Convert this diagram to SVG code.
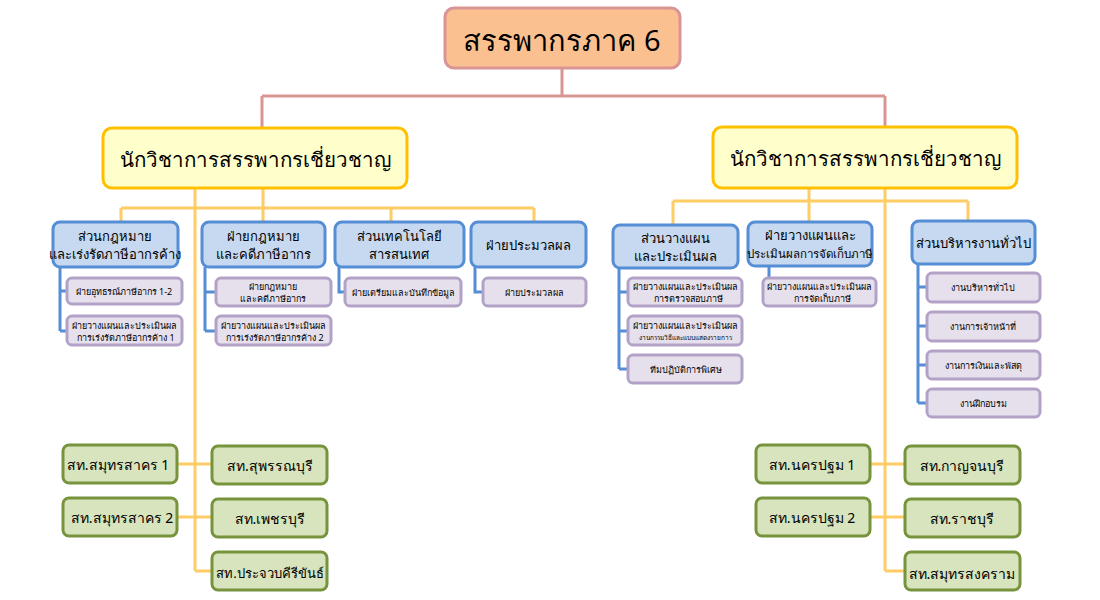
<svg xmlns="http://www.w3.org/2000/svg" width="1100" height="600" viewBox="0 0 1100 600">
<style>
text{font-family:"Noto Sans","DejaVu Sans",sans-serif;fill:#000;text-anchor:middle;dominant-baseline:central}
.top{fill:#FAC090;stroke:#D99594;stroke-width:3}
.yel{fill:#FFFFCC;stroke:#FFC000;stroke-width:3}
.blu{fill:#C6D9F1;stroke:#558ED5;stroke-width:3}
.pur{fill:#E6E0EC;stroke:#B3A2C7;stroke-width:3}
.grn{fill:#D7E4BD;stroke:#77933C;stroke-width:3}
.cp{fill:none;stroke:#D99594;stroke-width:3}
.co{fill:none;stroke:#FFCC66;stroke-width:3}
.cb{fill:none;stroke:#558ED5;stroke-width:3}
.t1{font-size:29px}
.t2{font-size:20.5px}
.t3{font-size:13px}
.t4{font-size:9px}
.t5{font-size:14px}
</style>
<rect width="1100" height="600" fill="#fff"/>
<g id="connectors">
<path class="cp" d="M562 68V96M262 96H885M262 96V128M885 96V127"/>
<path class="co" d="M195 188V571M263 188V208M121 208H534M121 208V222M263 208V222M391 208V222M534 208V222"/>
<path class="co" d="M177 464H212M177 517H212M195 571H212"/>
<path class="co" d="M885 188V571M809 188V201M673 201H968M673 201V225M809 201V222M968 201V221"/>
<path class="co" d="M870 464H905M870 517H905M885 571H905"/>
<path class="cb" d="M60 267V331M60 291H67M60 331H67"/>
<path class="cb" d="M205 267V331M205 292H216M205 331H216"/>
<path class="cb" d="M339 267V292H345"/>
<path class="cb" d="M475 267V292H483"/>
<path class="cb" d="M619 268V369M619 292H628M619 331H628M619 369H628"/>
<path class="cb" d="M769 266V292"/>
<path class="cb" d="M918 264V403M918 287H927M918 326H927M918 365H927M918 403H927"/>
</g>
<g id="n-root"><rect class="top" x="445" y="8" width="235" height="60" rx="9"/><text class="t1" x="562" y="39">สรรพากรภาค 6</text></g>
<g id="n-exp1"><rect class="yel" x="103" y="128" width="304" height="60" rx="9"/><text class="t2" x="255" y="159">นักวิชาการสรรพากรเชี่ยวชาญ</text></g>
<g id="n-exp2"><rect class="yel" x="713" y="127" width="304" height="61" rx="9"/><text class="t2" x="865" y="158">นักวิชาการสรรพากรเชี่ยวชาญ</text></g>

<g id="n-law"><rect class="blu" x="53" y="222" width="125" height="45" rx="7"/><text class="t3" x="115" y="236">ส่วนกฎหมาย</text><text class="t3" x="115" y="254">และเร่งรัดภาษีอากรค้าง</text></g>
<g id="n-lawdiv"><rect class="blu" x="202" y="222" width="123" height="45" rx="7"/><text class="t3" x="263" y="236">ฝ่ายกฎหมาย</text><text class="t3" x="263" y="254">และคดีภาษีอากร</text></g>
<g id="n-it"><rect class="blu" x="335" y="222" width="129" height="45" rx="7"/><text class="t3" x="399" y="236">ส่วนเทคโนโลยี</text><text class="t3" x="399" y="254">สารสนเทศ</text></g>
<g id="n-proc"><rect class="blu" x="471" y="222" width="115" height="45" rx="7"/><text class="t3" x="528" y="245">ฝ่ายประมวลผล</text></g>

<g id="n-appeal"><rect class="pur" x="67" y="278" width="115" height="26" rx="5"/><text class="t4" x="124" y="291">ฝ่ายอุทธรณ์ภาษีอากร 1-2</text></g>
<g id="n-plan1"><rect class="pur" x="67" y="316" width="115" height="29" rx="5"/><text class="t4" x="124" y="325">ฝ่ายวางแผนและประเมินผล</text><text class="t4" x="126" y="337">การเร่งรัดภาษีอากรค้าง 1</text></g>
<g id="n-lawsub"><rect class="pur" x="216" y="278" width="115" height="28" rx="5"/><text class="t4" x="273" y="286">ฝ่ายกฎหมาย</text><text class="t4" x="273" y="298">และคดีภาษีอากร</text></g>
<g id="n-plan2"><rect class="pur" x="216" y="316" width="115" height="29" rx="5"/><text class="t4" x="273" y="325">ฝ่ายวางแผนและประเมินผล</text><text class="t4" x="275" y="337">การเร่งรัดภาษีอากรค้าง 2</text></g>
<g id="n-data"><rect class="pur" x="345" y="278" width="116" height="28" rx="5"/><text class="t4" x="403" y="292">ฝ่ายเตรียมและบันทึกข้อมูล</text></g>
<g id="n-procsub"><rect class="pur" x="483" y="278" width="103" height="28" rx="5"/><text class="t4" x="534" y="292">ฝ่ายประมวลผล</text></g>

<g id="n-planeval"><rect class="blu" x="613" y="225" width="125" height="43" rx="7"/><text class="t3" x="675" y="238">ส่วนวางแผน</text><text class="t3" x="675" y="256">และประเมินผล</text></g>
<g id="n-plancol"><rect class="blu" x="748" y="222" width="124" height="44" rx="7"/><text class="t3" x="810" y="235">ฝ่ายวางแผนและ</text><text style="font-size:11.5px" x="810" y="253">ประเมินผลการจัดเก็บภาษี</text></g>
<g id="n-admin"><rect class="blu" x="912" y="221" width="123" height="43" rx="7"/><text class="t3" x="973" y="243">ส่วนบริหารงานทั่วไป</text></g>

<g id="n-audit"><rect class="pur" x="628" y="278" width="114" height="28" rx="5"/><text class="t4" x="685" y="286">ฝ่ายวางแผนและประเมินผล</text><text class="t4" x="688" y="298">การตรวจสอบภาษี</text></g>
<g id="n-method"><rect class="pur" x="628" y="316" width="114" height="29" rx="5"/><text class="t4" x="685" y="325">ฝ่ายวางแผนและประเมินผล</text><text style="font-size:6.5px" x="685" y="337">งานกรรมวิธีและแบบแสดงรายการ</text></g>
<g id="n-special"><rect class="pur" x="628" y="355" width="114" height="28" rx="5"/><text class="t4" x="686" y="369">ทีมปฏิบัติการพิเศษ</text></g>
<g id="n-colsub"><rect class="pur" x="763" y="278" width="113" height="28" rx="5"/><text class="t4" x="819" y="286">ฝ่ายวางแผนและประเมินผล</text><text class="t4" x="822" y="298">การจัดเก็บภาษี</text></g>
<g id="n-gen"><rect class="pur" x="927" y="273" width="113" height="29" rx="5"/><text class="t4" x="983" y="287">งานบริหารทั่วไป</text></g>
<g id="n-staff"><rect class="pur" x="927" y="312" width="113" height="29" rx="5"/><text class="t4" x="983" y="326">งานการเจ้าหน้าที่</text></g>
<g id="n-fin"><rect class="pur" x="927" y="351" width="113" height="28" rx="5"/><text class="t4" x="983" y="365">งานการเงินและพัสดุ</text></g>
<g id="n-train"><rect class="pur" x="927" y="389" width="113" height="28" rx="5"/><text class="t4" x="983" y="403">งานฝึกอบรม</text></g>

<g id="n-ssk1"><rect class="grn" x="63" y="445" width="114" height="38" rx="6"/><text class="t5" x="118" y="464">สท.สมุทรสาคร 1</text></g>
<g id="n-ssk2"><rect class="grn" x="63" y="498" width="114" height="38" rx="6"/><text class="t5" x="122" y="517">สท.สมุทรสาคร 2</text></g>
<g id="n-spb"><rect class="grn" x="212" y="446" width="115" height="38" rx="6"/><text class="t5" x="270" y="465">สท.สุพรรณบุรี</text></g>
<g id="n-pbi"><rect class="grn" x="212" y="499" width="115" height="38" rx="6"/><text class="t5" x="270" y="518">สท.เพชรบุรี</text></g>
<g id="n-pkn"><rect class="grn" x="212" y="552" width="115" height="38" rx="6"/><text style="font-size:13px" x="270" y="573">สท.ประจวบคีรีขันธ์</text></g>
<g id="n-npt1"><rect class="grn" x="756" y="445" width="114" height="38" rx="6"/><text class="t5" x="812" y="464">สท.นครปฐม 1</text></g>
<g id="n-npt2"><rect class="grn" x="756" y="498" width="114" height="38" rx="6"/><text class="t5" x="812" y="517">สท.นครปฐม 2</text></g>
<g id="n-kri"><rect class="grn" x="905" y="446" width="115" height="38" rx="6"/><text class="t5" x="962" y="465">สท.กาญจนบุรี</text></g>
<g id="n-rbr"><rect class="grn" x="905" y="499" width="115" height="38" rx="6"/><text class="t5" x="962" y="518">สท.ราชบุรี</text></g>
<g id="n-skm"><rect class="grn" x="905" y="552" width="115" height="38" rx="6"/><text class="t5" x="962" y="573">สท.สมุทรสงคราม</text></g>
</svg>
